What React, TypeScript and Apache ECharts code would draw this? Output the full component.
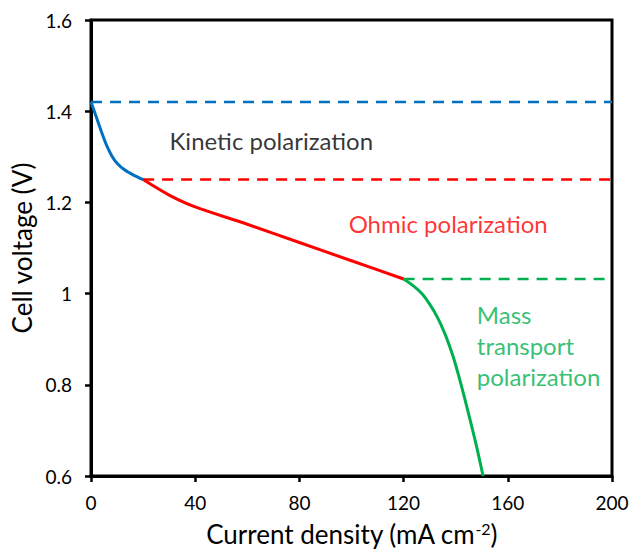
import React, { useEffect, useRef } from "react";
import * as echarts from "echarts";

// Polarization curve segments: current density (mA cm-2) vs cell voltage (V)
const kineticX = [0, 2, 4, 6, 8, 10, 13, 16, 20];
const kineticV = [1.42, 1.388, 1.355, 1.325, 1.302, 1.286, 1.271, 1.261, 1.25];
const ohmicX = [20, 30, 40, 60, 80, 100, 120];
const ohmicV = [1.25, 1.216, 1.19, 1.152, 1.112, 1.072, 1.032];
const massX = [120, 124, 127, 130, 133, 136, 139, 142, 145, 148, 150.5];
const massV = [1.032, 1.016, 1.0, 0.977, 0.948, 0.91, 0.862, 0.802, 0.735, 0.665, 0.6];

// Reference voltage levels marking each loss region
const openCircuitV = 1.42;
const ohmicStartV = 1.25;
const massStartV = 1.032;
const xMax = 200;

const BLUE = "#0070C0";
const RED = "#FF0000";
const GREEN = "#00B050";
const FONT = "Lato, 'Open Sans', sans-serif";

const zip = (xs: number[], ys: number[]) => xs.map((x, i) => [x, ys[i]]);

export default function App() {
  const ref = useRef<HTMLDivElement>(null);

  useEffect(() => {
    if (!ref.current) return;
    const chart = echarts.init(ref.current, undefined, { renderer: "svg" });

    const solid = (name: string, data: number[][], color: string) => ({
      name,
      type: "line",
      data,
      smooth: 0.3,
      showSymbol: false,
      symbol: "none",
      lineStyle: { color, width: 3 },
      z: 3,
    });
    const dashed = (name: string, x0: number, v: number, color: string) => ({
      name,
      type: "line",
      data: [
        [x0, v],
        [xMax, v],
      ],
      showSymbol: false,
      symbol: "none",
      lineStyle: { color, width: 2.5, type: [11, 8] },
      z: 2,
    });
    const note = (text: string, x: number, v: number, color: string, align: string) => ({
      type: "scatter",
      data: [[x, v]],
      symbolSize: 0,
      silent: true,
      label: {
        show: true,
        position: "inside",
        formatter: text,
        color,
        fontSize: 24,
        fontFamily: FONT,
        align,
        verticalAlign: "middle",
        lineHeight: 31,
      },
    });

    const tick = { show: true, length: 6, lineStyle: { color: "#000", width: 2.5 } };
    const line = { lineStyle: { color: "#000", width: 3 } };

    chart.setOption({
      animation: false,
      grid: {
        left: 91,
        right: 21,
        top: 20,
        bottom: 75,
        show: true,
        borderColor: "#000",
        borderWidth: 3,
      },
      xAxis: {
        type: "value",
        min: 0,
        max: 200,
        interval: 40,
        splitLine: { show: false },
        axisLine: line,
        axisTick: tick,
        axisLabel: { color: "#000", fontSize: 19, fontFamily: FONT, margin: 17 },
        name: "{a|Current density (mA cm}{s|-2}{a|)}",
        nameLocation: "middle",
        nameGap: 44,
        nameTextStyle: {
          rich: {
            a: { fontSize: 26, fontFamily: FONT, color: "#000" },
            s: { fontSize: 16, fontFamily: FONT, color: "#000", verticalAlign: "top", padding: [0, 0, 12, 0] },
          },
        },
      },
      yAxis: {
        type: "value",
        min: 0.6,
        max: 1.6,
        interval: 0.2,
        splitLine: { show: false },
        axisLine: line,
        axisTick: tick,
        axisLabel: {
          color: "#000",
          fontSize: 19,
          fontFamily: FONT,
          margin: 19,
          formatter: (v: number) => String(parseFloat(v.toFixed(1))),
        },
        name: "Cell voltage (V)",
        nameLocation: "middle",
        nameGap: 50,
        nameTextStyle: { fontSize: 26, fontFamily: FONT, color: "#000" },
      },
      series: [
        dashed("OCV", 0, openCircuitV, BLUE),
        dashed("Ohmic onset", 20, ohmicStartV, RED),
        dashed("Mass onset", 120, massStartV, GREEN),
        solid("Kinetic", zip(kineticX, kineticV), BLUE),
        solid("Ohmic", zip(ohmicX, ohmicV), RED),
        solid("Mass transport", zip(massX, massV), GREEN),
        note("Kinetic polarization", 69.2, 1.336, "#000", "center"),
        note("Ohmic polarization", 137.1, 1.154, RED, "center"),
        note("Mass\ntransport\npolarization", 148.1, 0.886, GREEN, "left"),
      ],
    });

    return () => chart.dispose();
  }, []);

  return (
    <div
      ref={ref}
      style={{ position: "absolute", left: 0, top: 0, width: 633, height: 552 }}
    />
  );
}
